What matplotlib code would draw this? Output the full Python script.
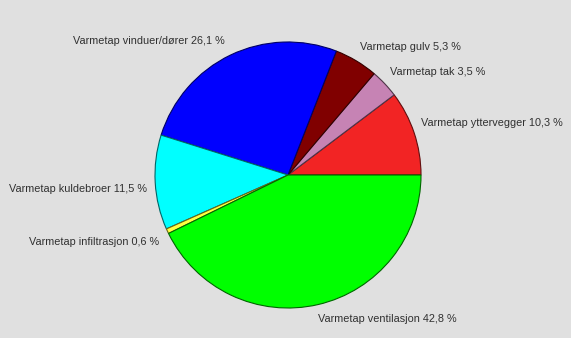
import matplotlib
matplotlib.use("Agg")
import matplotlib.pyplot as plt
import matplotlib.colors as mcolors

categories = ["Varmetap yttervegger", "Varmetap tak", "Varmetap gulv",
              "Varmetap vinduer/dører", "Varmetap kuldebroer",
              "Varmetap infiltrasjon", "Varmetap ventilasjon"]
values = [10.3, 3.5, 5.3, 26.1, 11.5, 0.6, 42.8]
value_labels = ["10,3", "3,5", "5,3", "26,1", "11,5", "0,6", "42,8"]

colors = ["#f22424", "#c683b4", "#800000", "#0000ff", "#00ffff", "#ffff40", "#00ff00"]
# label layout (in units of the pie radius) and alignment
label_pos = [(1.0, 0.39, "left"), (0.767, 0.774, "left"), (0.541, 0.962, "left"),
             (-0.474, 1.008, "right"), (-1.06, -0.105, "right"),
             (-0.97, -0.504, "right"), (0.226, -1.085, "left")]

bg = "#e0e0e0"
fig = plt.figure(figsize=(5.71, 3.38), dpi=100, facecolor=bg)
ax = fig.add_axes([0, 0, 1, 1])
ax.set_facecolor(bg)

edge = [tuple(c * 0.4 for c in mcolors.to_rgb(col)) for col in colors]
wedges, _ = ax.pie(values, colors=colors, startangle=0, counterclock=True,
                   radius=1.0, center=(0, 0), normalize=True,
                   wedgeprops=dict(linewidth=0.8))
for w, e in zip(wedges, edge):
    w.set_edgecolor(e)

for cat, vl, (x, y, ha) in zip(categories, value_labels, label_pos):
    ax.text(x, y, f"{cat} {vl} %", ha=ha, va="center", fontsize=7.8,
            family=["Liberation Sans", "DejaVu Sans"], color="#303030")

R = 133.0
ax.set_xlim(-288 / R, (571 - 288) / R)
ax.set_ylim(-163 / R, 175 / R)
ax.set_aspect("auto")
ax.axis("off")

fig.savefig("out.png", dpi=100, facecolor=bg)
